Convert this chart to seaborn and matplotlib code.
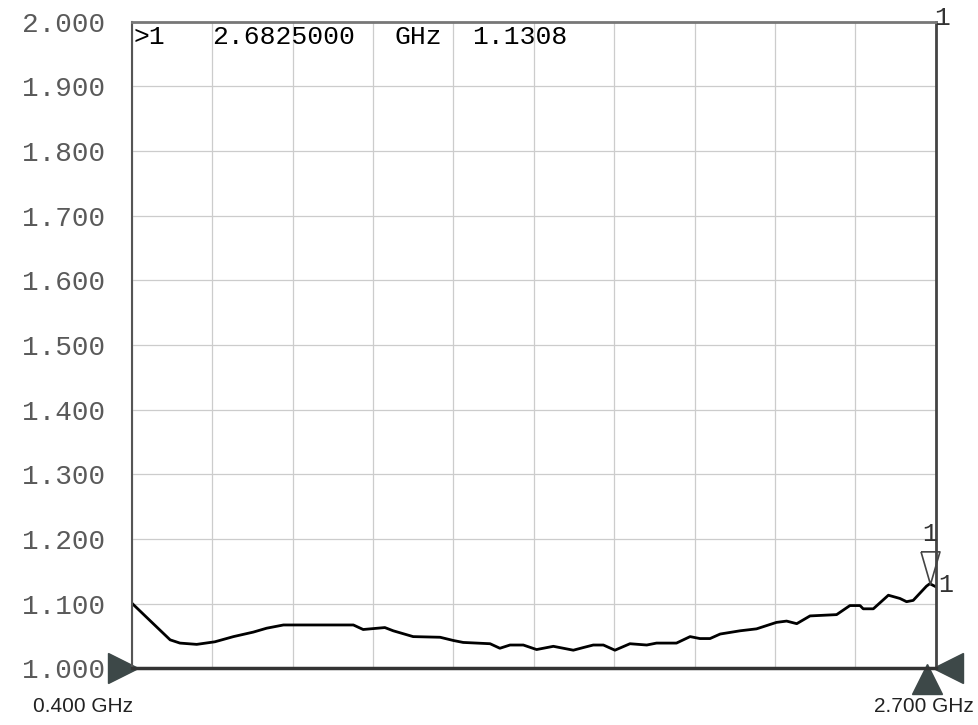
import pandas as pd
import seaborn as sns
import matplotlib.pyplot as plt
from matplotlib.transforms import offset_copy

# trace (GHz, VSWR)
freq_ghz = [0.400, 0.452, 0.510, 0.538, 0.586, 0.638, 0.691, 0.748, 0.786, 0.834,
            1.034, 1.062, 1.124, 1.148, 1.205, 1.282, 1.320, 1.348, 1.425, 1.453,
            1.482, 1.520, 1.558, 1.606, 1.663, 1.691, 1.720, 1.749, 1.782, 1.825,
            1.873, 1.901, 1.958, 1.997, 2.025, 2.054, 2.083, 2.140, 2.187, 2.244,
            2.273, 2.302, 2.340, 2.416, 2.454, 2.483, 2.492, 2.521, 2.564, 2.597,
            2.616, 2.635, 2.673, 2.6825, 2.700]
vswr = [1.101, 1.074, 1.044, 1.039, 1.037, 1.041, 1.049, 1.056, 1.062, 1.067,
        1.067, 1.060, 1.063, 1.058, 1.049, 1.048, 1.043, 1.040, 1.038, 1.031,
        1.036, 1.036, 1.029, 1.034, 1.028, 1.032, 1.036, 1.036, 1.028, 1.038,
        1.036, 1.039, 1.039, 1.049, 1.046, 1.046, 1.053, 1.058, 1.061, 1.071,
        1.073, 1.069, 1.081, 1.083, 1.097, 1.097, 1.092, 1.092, 1.113, 1.108,
        1.103, 1.105, 1.127, 1.1308, 1.126]

y_ticks = [1.0, 1.1, 1.2, 1.3, 1.4, 1.5, 1.6, 1.7, 1.8, 1.9, 2.0]
y_labels = ['1.000', '1.100', '1.200', '1.300', '1.400', '1.500',
            '1.600', '1.700', '1.800', '1.900', '2.000']
x_grid = [0.40, 0.63, 0.86, 1.09, 1.32, 1.55, 1.78, 2.01, 2.24, 2.47, 2.70]
x_start, x_stop = 0.400, 2.700
marker_f, marker_v = 2.6825, 1.1308

df = pd.DataFrame({'freq': freq_ghz, 'vswr': vswr})

sns.set_style('white')
mono = ['Liberation Mono', 'DejaVu Sans Mono']

fig = plt.figure(figsize=(9.79, 7.25), dpi=100)
ax = fig.add_axes([0.1345, 0.0782, 0.8215, 0.8921])

sns.lineplot(data=df, x='freq', y='vswr', color='black', linewidth=2, ax=ax)

ax.set_xlim(x_start, x_stop)
ax.set_ylim(1.0, 2.0)
ax.set_xticks(x_grid)
ax.set_xticklabels([])
ax.set_yticks(y_ticks)
ax.set_yticklabels(y_labels, family=mono, fontsize=20, color='#5a5a5a')
ax.tick_params(axis='both', length=0)
ax.tick_params(axis='y', pad=19)
ax.set_xlabel('')
ax.set_ylabel('')
ax.grid(True, color='#cccccc', linewidth=0.9)

for side, c, lw in [('left', '#555555', 1.5), ('right', '#444444', 2),
                    ('top', '#777777', 2), ('bottom', '#333333', 2.5)]:
    ax.spines[side].set_visible(True)
    ax.spines[side].set_color(c)
    ax.spines[side].set_linewidth(lw)

# marker readout
hdr = dict(transform=ax.transAxes, family=mono, fontsize=19, color='black', va='top')
ax.text(0.002, 0.995, '>1', **hdr)
ax.text(0.100, 0.995, '2.6825000', **hdr)
ax.text(0.327, 0.995, 'GHz', **hdr)
ax.text(0.423, 0.995, '1.1308', **hdr)
ax.text(0.998, 1.005, '1', transform=ax.transAxes, family=mono, fontsize=19,
        color='#333333', va='center', ha='left')

# marker symbol on the trace
ax.plot([marker_f], [marker_v],
        marker=[(-0.29, 1), (0.29, 1), (0, 0), (-0.29, 1)],
        markersize=47, markerfacecolor='none', markeredgecolor='#444444',
        markeredgewidth=1.2, linestyle='none', clip_on=False)
ax.annotate('1', (marker_f, marker_v), xytext=(0, 27), textcoords='offset points',
            family=mono, fontsize=18, ha='center', va='bottom', color='#333333')
ax.annotate('1', (x_stop, marker_v), xytext=(2, -1), textcoords='offset points',
            family=mono, fontsize=18, ha='left', va='center', color='#333333',
            annotation_clip=False)

# start / stop arrows
tri = '#3d4848'
ax.plot([x_start], [1.0], marker='>', markersize=22, color=tri, clip_on=False,
        transform=offset_copy(ax.transData, fig, x=-9, y=0, units='dots'))
ax.plot([x_stop], [1.0], marker='^', markersize=22, color=tri, clip_on=False,
        transform=offset_copy(ax.transData, fig, x=-9, y=-11, units='dots'))
ax.plot([x_stop], [1.0], marker='<', markersize=22, color=tri, clip_on=False,
        transform=offset_copy(ax.transData, fig, x=12, y=0, units='dots'))

fig.text(0.034, 0.025, '0.400 GHz', family=['Liberation Sans', 'DejaVu Sans'],
         fontsize=15, color='#222222', ha='left', va='center')
fig.text(0.995, 0.025, '2.700 GHz', family=['Liberation Sans', 'DejaVu Sans'],
         fontsize=15, color='#222222', ha='right', va='center')

fig.savefig('out.png', dpi=100, facecolor='white')
